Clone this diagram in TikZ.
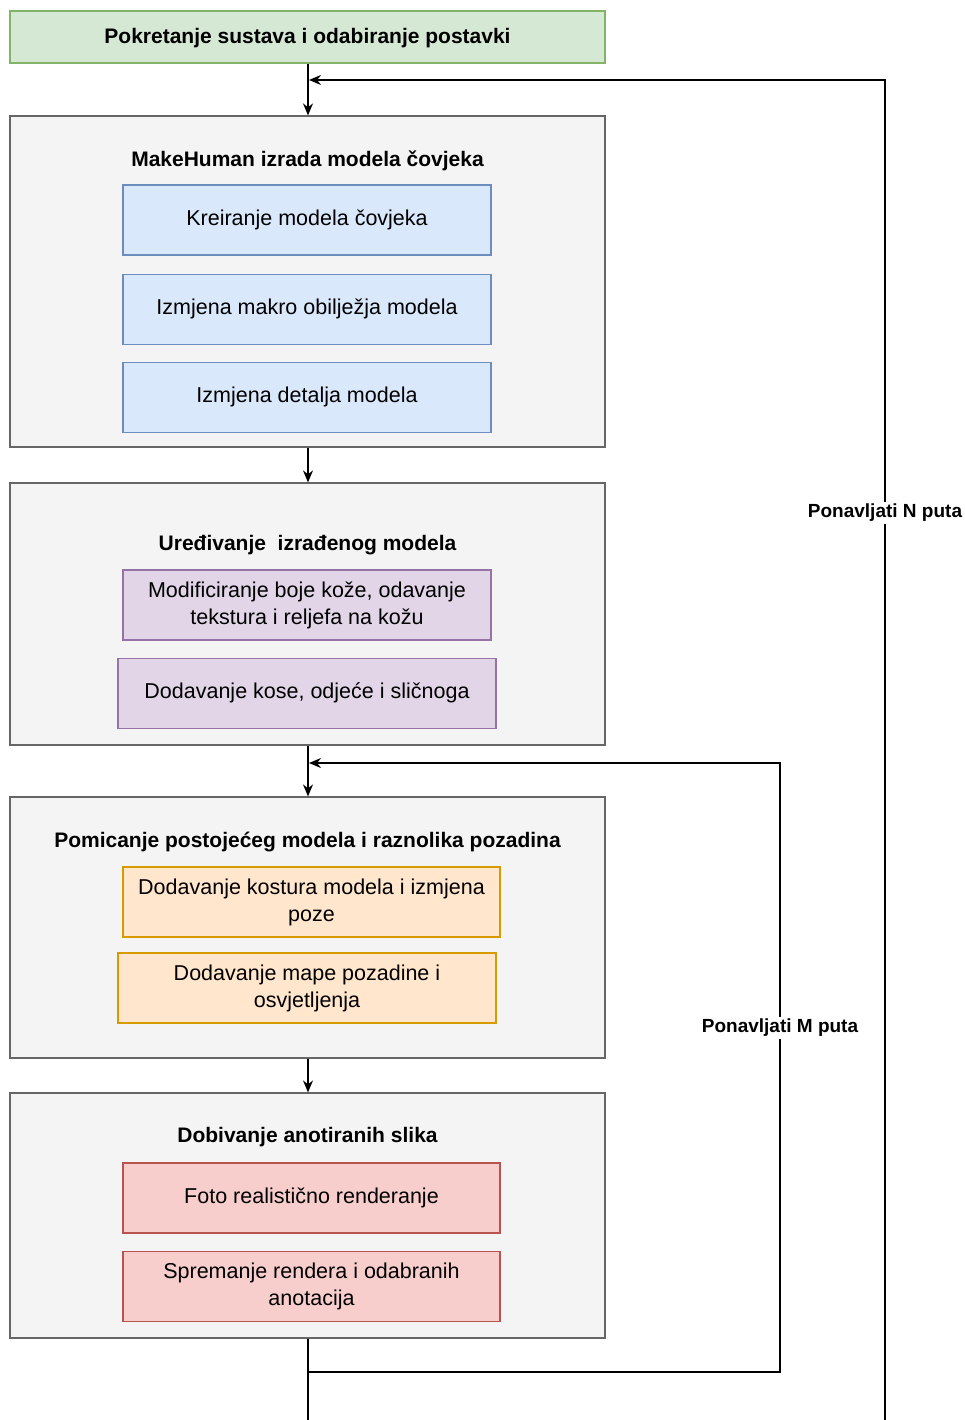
\documentclass[tikz,border=0pt]{standalone}
\usepackage{fontspec}
\setmainfont{Liberation Sans}
\usetikzlibrary{arrows.meta,positioning}

\definecolor{greenfill}{HTML}{D5E8D4}
\definecolor{greenline}{HTML}{82B366}
\definecolor{grpfill}{HTML}{F4F4F4}
\definecolor{grpline}{HTML}{666666}
\definecolor{bluefill}{HTML}{DAE8FC}
\definecolor{blueline}{HTML}{6C8EBF}
\definecolor{purplefill}{HTML}{E1D5E7}
\definecolor{purpleline}{HTML}{9673A6}
\definecolor{orangefill}{HTML}{FFE6CC}
\definecolor{orangeline}{HTML}{D79B00}
\definecolor{redfill}{HTML}{F8CECC}
\definecolor{redline}{HTML}{B85450}

\begin{document}
\begin{tikzpicture}[x=1pt, y=-1pt, >={Stealth[length=12pt,width=10pt]}, line width=1.3pt,
    every node/.style={align=center, inner sep=0pt},
    box/.style={draw, line width=1.2pt, font=\fontsize{21.5}{27}\selectfont,
      minimum width=368pt, minimum height=70pt},
    wbox/.style={box, minimum width=378pt},
    grp/.style={draw=grpline, fill=grpfill, line width=1.2pt, minimum width=595pt},
    grptitle/.style={font=\bfseries\fontsize{21}{25}\selectfont},
    loopnote/.style={fill=white, inner sep=2pt, font=\bfseries\fontsize{19}{23}\selectfont}]
    \useasboundingbox (0,0) rectangle (964,1420);

    \node[grp, draw=greenline, fill=greenfill, minimum height=52pt] (start) at (307.5,37) {};
    \node[grptitle] at ([yshift=-1pt]start) {Pokretanje sustava i odabiranje postavki};

    % MakeHuman
    \node[grp, minimum height=331pt] (g1) at (307.5,281.5) {};
    \node[grptitle] (t1) at ([yshift=-45pt]g1.north) {MakeHuman izrada modela čovjeka};
    \node[box, fill=bluefill, draw=blueline] (b1) at (307,220) {Kreiranje modela čovjeka};
    \node[box, fill=bluefill, draw=blueline, below=18pt of b1] (b2) {Izmjena makro obilježja modela};
    \node[box, fill=bluefill, draw=blueline, below=17pt of b2] (b3) {Izmjena detalja modela};

    % uredjivanje
    \node[grp, minimum height=262pt] (g2) at (307.5,614) {};
    \node[grptitle] (t2) at ([yshift=-63pt]g2.north) {Uređivanje~~izrađenog modela};
    \node[box, fill=purplefill, draw=purpleline] (p1) at (307,605) {Modificiranje boje kože, odavanje\\tekstura i reljefa na kožu};
    \node[wbox, fill=purplefill, draw=purpleline, below=17pt of p1] (p2) {Dodavanje kose, odjeće i sličnoga};

    % pozadina
    \node[grp, minimum height=261pt] (g3) at (307.5,927.5) {};
    \node[grptitle] (t3) at ([yshift=-46pt]g3.north) {Pomicanje postojećeg modela i raznolika pozadina};
    \node[box, minimum width=377pt, fill=orangefill, draw=orangeline] (o1) at (311.5,902) {Dodavanje kostura modela i izmjena\\poze};
    \node[wbox, fill=orangefill, draw=orangeline] (o2) at (307,988) {Dodavanje mape pozadine i\\osvjetljenja};

    % slike
    \node[grp, minimum height=245pt] (g4) at (307.5,1215.5) {};
    \node[grptitle] (t4) at ([yshift=-45pt]g4.north) {Dobivanje anotiranih slika};
    \node[box, minimum width=377pt, fill=redfill, draw=redline] (r1) at (311.5,1198) {Foto realistično renderanje};
    \node[box, minimum width=377pt, fill=redfill, draw=redline, below=17pt of r1] (r2) {Spremanje rendera i odabranih\\anotacija};

    \coordinate (bottom) at (308,1420);
    \coordinate (nstart) at (885,1420);
    \coordinate (njoin) at (309,80);
    \coordinate (mstart) at (308,1372);
    \coordinate (mcorner) at (780,1372);
    \coordinate (mtop) at (780,763);
    \coordinate (mjoin) at (309,763);

    \draw[->] (start.south -| 308,0) -- (g1.north -| 308,0);
    \draw[->] (g1.south -| 308,0) -- (g2.north -| 308,0);
    \draw[->] (g2.south -| 308,0) -- (g3.north -| 308,0);
    \draw[->] (g3.south -| 308,0) -- (g4.north -| 308,0);
    \draw (g4.south -| 308,0) -- (bottom);

    \draw[->] (mstart) -- (mcorner) -- node[loopnote, pos=0.565] {Ponavljati M puta} (mtop) -- (mjoin);
    \draw[->] (nstart) -- node[loopnote, pos=0.677] {Ponavljati N puta} (nstart |- njoin) -- (njoin);
\end{tikzpicture}
\end{document}
